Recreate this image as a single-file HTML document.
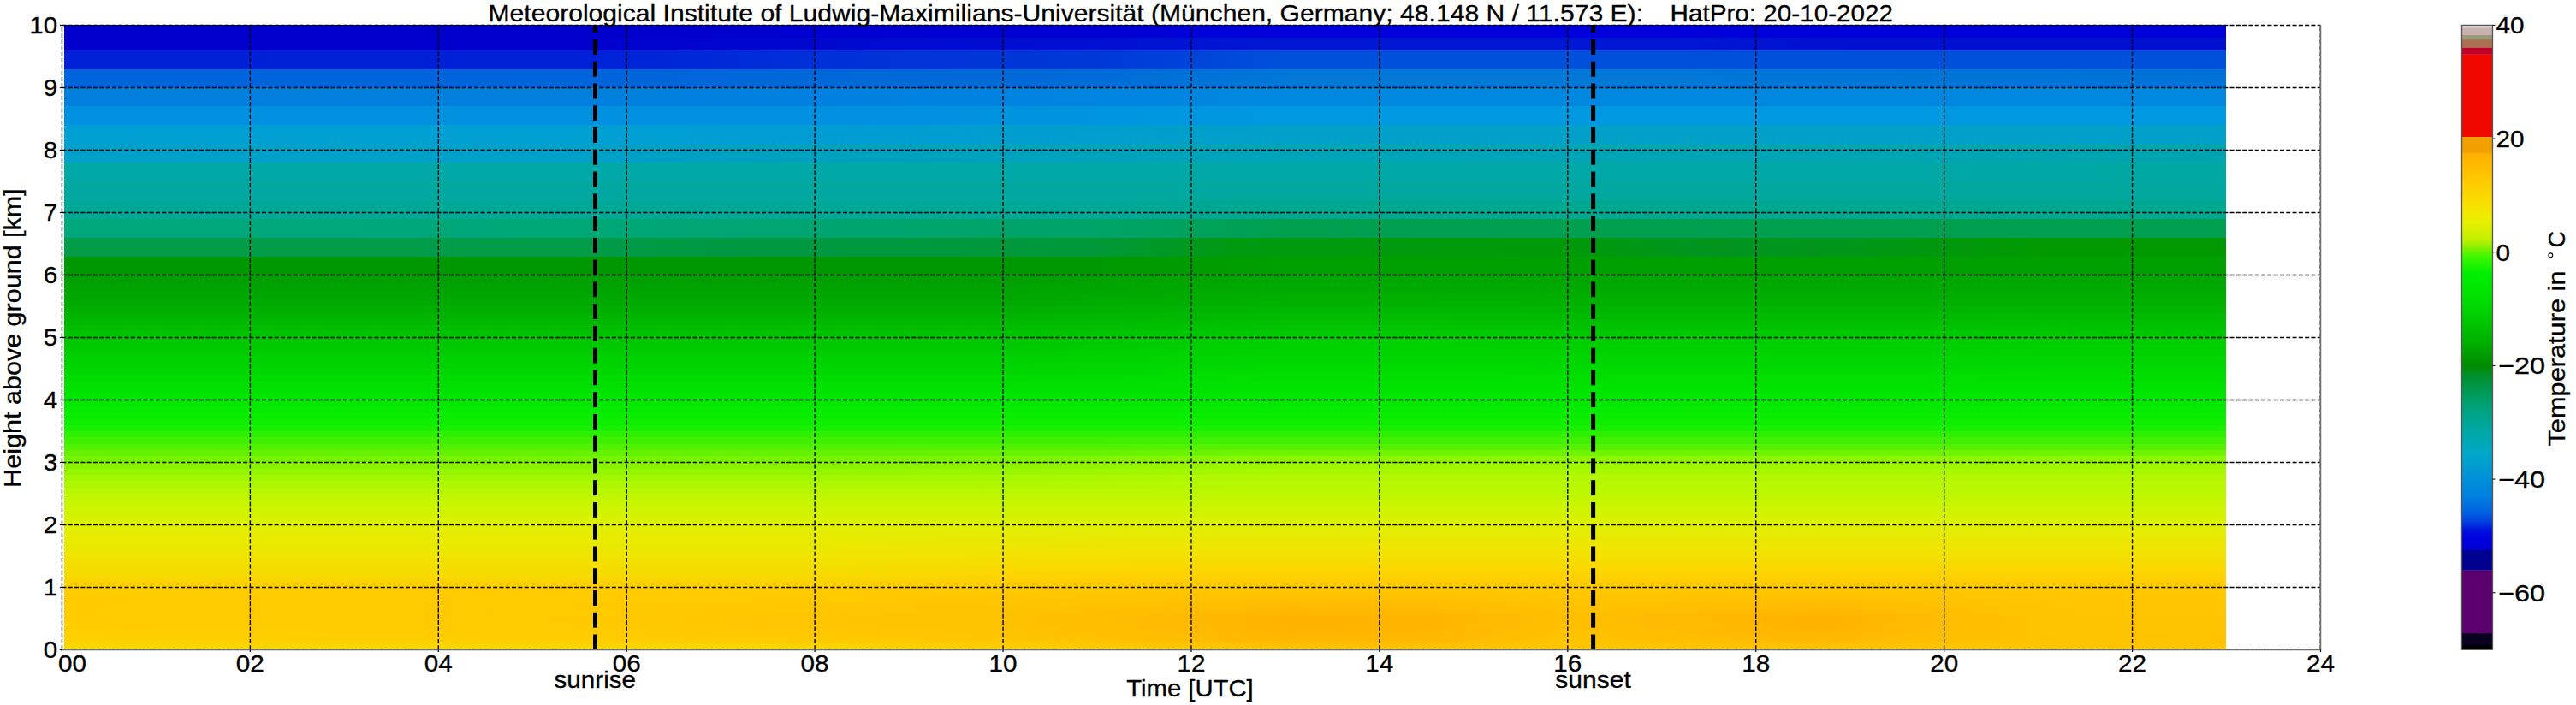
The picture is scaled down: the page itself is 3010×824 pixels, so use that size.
<!DOCTYPE html>
<html><head><meta charset="utf-8"><style>
html,body{margin:0;padding:0;background:#fff;}
body{width:3010px;height:824px;overflow:hidden;position:relative;font-family:"Liberation Sans",sans-serif;}
#heat{position:absolute;left:75.0px;top:28.9px;width:2526.0px;height:730.6px;overflow:hidden;}
#heat div{position:absolute;left:0;width:100%;}
svg{position:absolute;left:0;top:0;}
.g{stroke:#000;stroke-width:1.4;stroke-dasharray:5 2.3;}
</style></head><body>
<div id="heat"><div style="top:0.00px;height:15.80px;background:linear-gradient(90deg,#0000cc -0.10%,#0000cc 23.84%,#0000d0 34.72%,#0000d4 47.78%,#0000dc 56.49%,#0000dc 73.90%,#0000d8 82.61%,#0000d8 100.02%)"></div>
<div style="top:15.20px;height:15.20px;background:linear-gradient(90deg,#0000cc -0.10%,#0000cc 23.84%,#0008d0 34.72%,#0010d2 47.78%,#0018d4 56.49%,#0018d4 73.90%,#0010d0 82.61%,#0010d0 100.02%)"></div>
<div style="top:29.80px;height:22.50px;background:linear-gradient(90deg,#0020d8 -0.10%,#0020d8 23.84%,#0030d8 34.72%,#0038d8 47.78%,#0050dc 56.49%,#0050dc 73.90%,#0050dc 100.02%)"></div>
<div style="top:51.70px;height:22.50px;background:linear-gradient(90deg,#0064dc -0.10%,#0064dc 23.84%,#0068d8 34.72%,#006cd8 47.78%,#0078d8 56.49%,#0078d8 73.90%,#0072d8 100.02%)"></div>
<div style="top:73.60px;height:22.50px;background:linear-gradient(90deg,#0080dc -0.10%,#0080dc 23.84%,#0080e0 34.72%,#0088e0 56.49%,#0088e0 100.02%)"></div>
<div style="top:95.50px;height:22.50px;background:linear-gradient(90deg,#0090e0 -0.10%,#0090e0 23.84%,#0090e0 34.72%,#0098e0 56.49%,#0098e0 100.02%)"></div>
<div style="top:117.40px;height:22.50px;background:linear-gradient(90deg,#00a0d4 -0.10%,#00a0d4 23.84%,#009cd4 34.72%,#00a0c8 56.49%,#00a0c8 100.02%)"></div>
<div style="top:139.30px;height:22.50px;background:linear-gradient(90deg,#00a0c8 -0.10%,#00a0c8 23.84%,#00a0c0 34.72%,#00a4b8 56.49%,#00a4b0 100.02%)"></div>
<div style="top:161.20px;height:22.50px;background:linear-gradient(90deg,#00a8a8 -0.10%,#00a8a8 56.49%,#00a8a4 100.02%)"></div>
<div style="top:183.10px;height:22.50px;background:#00a8a0"></div>
<div style="top:205.00px;height:22.50px;background:linear-gradient(90deg,#00a898 -0.10%,#00a898 47.78%,#00a890 56.49%,#00a890 100.02%)"></div>
<div style="top:226.90px;height:22.50px;background:linear-gradient(90deg,#00a87c -0.10%,#00a878 23.84%,#00a470 34.72%,#00a468 47.78%,#00a050 56.49%,#00a050 100.02%)"></div>
<div style="top:248.80px;height:22.50px;background:linear-gradient(90deg,#009c48 -0.10%,#009c48 23.84%,#009840 34.72%,#009838 47.78%,#009a10 54.31%,#009a08 69.55%,#009420 76.08%,#009618 82.61%,#009a00 91.31%,#009a00 100.02%)"></div>
<div style="top:270.70px;height:22.50px;background:linear-gradient(90deg,#009800 -0.10%,#009800 47.78%,#00a000 56.49%,#00a000 100.02%)"></div>
<div style="top:292.60px;height:7.90px;background:linear-gradient(90deg,#009e00 -0.10%,#009e00 12.96%,#009e00 26.02%,#009e00 34.72%,#009e00 43.43%,#00a200 49.96%,#00a600 56.49%,#00a600 63.02%,#00a600 69.55%,#00a600 76.08%,#00a600 81.30%,#00a600 86.96%,#00a500 93.49%,#00a500 100.02%)"></div>
<div style="top:299.90px;height:7.90px;background:linear-gradient(90deg,#00a100 -0.10%,#00a100 12.96%,#00a100 26.02%,#00a100 34.72%,#00a100 43.43%,#00a500 49.96%,#00a900 56.49%,#00a900 63.02%,#00a800 69.55%,#00a800 76.08%,#00a800 81.30%,#00a800 86.96%,#00a800 93.49%,#00a800 100.02%)"></div>
<div style="top:307.20px;height:7.90px;background:linear-gradient(90deg,#00a400 -0.10%,#00a400 12.96%,#00a400 26.02%,#00a400 34.72%,#00a400 43.43%,#00a800 49.96%,#00ac00 56.49%,#00ac00 63.02%,#00ab00 69.55%,#00ab00 76.08%,#00ab00 81.30%,#00ab00 86.96%,#00ab00 93.49%,#00ab00 100.02%)"></div>
<div style="top:314.50px;height:7.90px;background:linear-gradient(90deg,#00a700 -0.10%,#00a700 12.96%,#00a700 26.02%,#00a700 34.72%,#00a700 43.43%,#00ab00 49.96%,#00af00 56.49%,#00af00 63.02%,#00ae00 69.55%,#00ae00 76.08%,#00ae00 81.30%,#00ae00 86.96%,#00ae00 93.49%,#00ae00 100.02%)"></div>
<div style="top:321.80px;height:7.90px;background:linear-gradient(90deg,#00aa00 -0.10%,#00aa00 12.96%,#00aa00 26.02%,#00aa00 34.72%,#00aa00 43.43%,#00ae00 49.96%,#00b200 56.49%,#00b200 63.02%,#00b100 69.55%,#00b100 76.08%,#00b100 81.30%,#00b100 86.96%,#00b100 93.49%,#00b100 100.02%)"></div>
<div style="top:329.10px;height:7.90px;background:linear-gradient(90deg,#00ae00 -0.10%,#00ae00 12.96%,#00ae00 26.02%,#00ae00 34.72%,#00ae00 43.43%,#00b200 49.96%,#00b600 56.49%,#00b600 63.02%,#00b500 69.55%,#00b500 76.08%,#00b500 81.30%,#00b500 86.96%,#00b400 93.49%,#00b400 100.02%)"></div>
<div style="top:336.40px;height:7.90px;background:linear-gradient(90deg,#00b300 -0.10%,#00b300 12.96%,#00b300 26.02%,#00b300 34.72%,#00b300 43.43%,#00b700 49.96%,#00bb00 56.49%,#00bb00 63.02%,#00ba00 69.55%,#00ba00 76.08%,#00ba00 81.30%,#00ba00 86.96%,#00b900 93.49%,#00b900 100.02%)"></div>
<div style="top:343.70px;height:7.90px;background:linear-gradient(90deg,#00b800 -0.10%,#00b800 12.96%,#00b800 26.02%,#00b800 34.72%,#00b800 43.43%,#00bc00 49.96%,#00c000 56.49%,#00c000 63.02%,#00bf00 69.55%,#00bf00 76.08%,#00bf00 81.30%,#00bf00 86.96%,#00be00 93.49%,#00be00 100.02%)"></div>
<div style="top:351.00px;height:7.90px;background:linear-gradient(90deg,#00bd00 -0.10%,#00bd00 12.96%,#00bd00 26.02%,#00bd00 34.72%,#00bd00 43.43%,#00c100 49.96%,#00c500 56.49%,#00c500 63.02%,#00c400 69.55%,#00c400 76.08%,#00c400 81.30%,#00c400 86.96%,#00c300 93.49%,#00c300 100.02%)"></div>
<div style="top:358.30px;height:7.90px;background:linear-gradient(90deg,#00c200 -0.10%,#00c200 12.96%,#00c200 26.02%,#00c200 34.72%,#00c200 43.43%,#00c600 49.96%,#00ca00 56.49%,#00ca00 63.02%,#00c900 69.55%,#00c900 76.08%,#00c900 81.30%,#00c900 86.96%,#00c800 93.49%,#00c800 100.02%)"></div>
<div style="top:365.60px;height:7.90px;background:linear-gradient(90deg,#00c600 -0.10%,#00c600 12.96%,#00c600 26.02%,#00c600 34.72%,#00c600 43.43%,#00ca00 49.96%,#00ce00 56.49%,#00ce00 63.02%,#00cd00 69.55%,#00cd00 76.08%,#00cd00 81.30%,#00cd00 86.96%,#00cc00 93.49%,#00cc00 100.02%)"></div>
<div style="top:372.90px;height:7.90px;background:linear-gradient(90deg,#00c900 -0.10%,#00c900 12.96%,#00c900 26.02%,#00c900 34.72%,#00c900 43.43%,#00cd00 49.96%,#00d100 56.49%,#00d100 63.02%,#00d000 69.55%,#00d000 76.08%,#00d000 81.30%,#00d000 86.96%,#00cf00 93.49%,#00cf00 100.02%)"></div>
<div style="top:380.20px;height:7.90px;background:linear-gradient(90deg,#00cd00 -0.10%,#00cd00 12.96%,#00cd00 26.02%,#00cd00 34.72%,#00cd00 43.43%,#00d000 49.96%,#00d400 56.49%,#00d400 63.02%,#00d300 69.55%,#00d300 76.08%,#00d300 81.30%,#00d300 86.96%,#00d200 93.49%,#00d200 100.02%)"></div>
<div style="top:387.50px;height:7.90px;background:linear-gradient(90deg,#00d100 -0.10%,#00d100 12.96%,#00d100 26.02%,#00d100 34.72%,#00d100 43.43%,#00d400 49.96%,#00d700 56.49%,#00d700 63.02%,#00d600 69.55%,#00d600 76.08%,#00d600 81.30%,#00d600 86.96%,#00d500 93.49%,#00d500 100.02%)"></div>
<div style="top:394.80px;height:7.90px;background:linear-gradient(90deg,#00d400 -0.10%,#00d400 12.96%,#00d400 26.02%,#00d400 34.72%,#00d400 43.43%,#00d700 49.96%,#00da00 56.49%,#00da00 63.02%,#00d900 69.55%,#00d900 76.08%,#00d900 81.30%,#00d900 86.96%,#00d800 93.49%,#00d800 100.02%)"></div>
<div style="top:402.10px;height:7.90px;background:linear-gradient(90deg,#00d800 -0.10%,#00d800 12.96%,#00d800 26.02%,#00d800 34.72%,#00d800 43.43%,#00da00 49.96%,#00dd00 56.49%,#00dd00 63.02%,#00dc00 69.55%,#00dc00 76.08%,#00dc00 81.30%,#00dc00 86.96%,#00db00 93.49%,#00db00 100.02%)"></div>
<div style="top:409.40px;height:7.90px;background:linear-gradient(90deg,#00db00 -0.10%,#00db00 12.96%,#00db00 26.02%,#00db00 34.72%,#00db00 43.43%,#00dd00 49.96%,#00e000 56.49%,#00e000 63.02%,#00df00 69.55%,#00df00 76.08%,#00df00 81.30%,#00df00 86.96%,#00de00 93.49%,#00de00 100.02%)"></div>
<div style="top:416.70px;height:7.90px;background:linear-gradient(90deg,#00df00 -0.10%,#00df00 12.96%,#00df00 26.02%,#00df00 34.72%,#00df00 43.43%,#00e000 49.96%,#00e200 56.49%,#00e200 63.02%,#00e100 69.55%,#00e100 76.08%,#00e100 81.30%,#00e100 86.96%,#00e100 93.49%,#00e100 100.02%)"></div>
<div style="top:424.00px;height:7.90px;background:linear-gradient(90deg,#00e300 -0.10%,#00e300 12.96%,#00e300 26.02%,#00e300 34.72%,#00e300 43.43%,#00e300 49.96%,#00e400 56.49%,#00e400 63.02%,#00e400 69.55%,#00e400 76.08%,#00e400 81.30%,#00e400 86.96%,#00e400 93.49%,#00e400 100.02%)"></div>
<div style="top:431.30px;height:7.90px;background:linear-gradient(90deg,#00e600 -0.10%,#00e600 12.96%,#00e600 26.02%,#00e600 34.72%,#00e600 43.43%,#00e600 49.96%,#00e700 56.49%,#00e700 63.02%,#00e700 69.55%,#00e700 76.08%,#00e700 81.30%,#00e700 86.96%,#00e700 93.49%,#00e700 100.02%)"></div>
<div style="top:438.60px;height:7.90px;background:linear-gradient(90deg,#02e900 -0.10%,#02e900 12.96%,#02e900 26.02%,#02e900 34.72%,#02e900 43.43%,#02e900 49.96%,#02e900 56.49%,#02e900 63.02%,#02e900 69.55%,#02e900 76.08%,#02e900 81.30%,#02e900 86.96%,#02e900 93.49%,#02e900 100.02%)"></div>
<div style="top:445.90px;height:7.90px;background:linear-gradient(90deg,#06eb00 -0.10%,#06eb00 12.96%,#06eb00 26.02%,#06eb00 34.72%,#06eb00 43.43%,#06eb00 49.96%,#06eb00 56.49%,#06eb00 63.02%,#06eb00 69.55%,#06eb00 76.08%,#06eb00 81.30%,#06eb00 86.96%,#06eb00 93.49%,#06eb00 100.02%)"></div>
<div style="top:453.20px;height:7.90px;background:linear-gradient(90deg,#0aed00 -0.10%,#0aed00 12.96%,#0aed00 26.02%,#0aed00 34.72%,#0aed00 43.43%,#0aed00 49.96%,#0aed00 56.49%,#0aed00 63.02%,#0aed00 69.55%,#0aed00 76.08%,#0aed00 81.30%,#0aed00 86.96%,#0aed00 93.49%,#0aed00 100.02%)"></div>
<div style="top:460.50px;height:7.90px;background:linear-gradient(90deg,#0eef00 -0.10%,#0eef00 12.96%,#0eef00 26.02%,#0eef00 34.72%,#0eef00 43.43%,#0eef00 49.96%,#0eef00 56.49%,#0eef00 63.02%,#0eef00 69.55%,#0eef00 76.08%,#0eef00 81.30%,#0eef00 86.96%,#0eef00 93.49%,#0eef00 100.02%)"></div>
<div style="top:467.80px;height:7.90px;background:linear-gradient(90deg,#19f000 -0.10%,#19f000 12.96%,#19f000 26.02%,#19f000 34.72%,#19f000 43.43%,#19f000 49.96%,#19f000 56.49%,#19f000 63.02%,#19f000 69.55%,#19f000 76.08%,#19f000 81.30%,#19f000 86.96%,#19f000 93.49%,#19f000 100.02%)"></div>
<div style="top:475.10px;height:7.90px;background:linear-gradient(90deg,#2cf000 -0.10%,#2cf000 12.96%,#2cf000 26.02%,#2cf000 34.72%,#2cf000 43.43%,#2cf000 49.96%,#2cf000 56.49%,#2cf000 63.02%,#2cf000 69.55%,#2cf000 76.08%,#2cf000 81.30%,#2cf000 86.96%,#2cf000 93.49%,#2cf000 100.02%)"></div>
<div style="top:482.40px;height:7.90px;background:linear-gradient(90deg,#3ff000 -0.10%,#3ff000 12.96%,#3ff000 26.02%,#3ff000 34.72%,#3ff000 43.43%,#3ff000 49.96%,#3ff000 56.49%,#3ff000 63.02%,#3ff000 69.55%,#3ff000 76.08%,#3ff000 81.30%,#3ff000 86.96%,#3ff000 93.49%,#3ff000 100.02%)"></div>
<div style="top:489.70px;height:7.90px;background:linear-gradient(90deg,#51f100 -0.10%,#51f100 12.96%,#51f100 26.02%,#51f100 34.72%,#52f100 43.43%,#54f100 49.96%,#55f100 56.49%,#55f100 63.02%,#55f100 69.55%,#55f100 76.08%,#55f100 81.30%,#55f100 86.96%,#55f100 93.49%,#55f100 100.02%)"></div>
<div style="top:497.00px;height:7.90px;background:linear-gradient(90deg,#64f200 -0.10%,#64f200 12.96%,#64f200 26.02%,#64f200 34.72%,#67f200 43.43%,#6bf300 49.96%,#70f400 56.49%,#70f400 63.02%,#70f400 69.55%,#70f400 76.08%,#70f400 81.30%,#70f400 86.96%,#70f400 93.49%,#70f400 100.02%)"></div>
<div style="top:504.30px;height:7.90px;background:linear-gradient(90deg,#77f300 -0.10%,#77f300 12.96%,#77f300 26.02%,#77f300 34.72%,#7cf400 43.43%,#83f500 49.96%,#8bf700 56.49%,#8bf700 63.02%,#8bf700 69.55%,#8bf700 76.08%,#8bf700 81.30%,#8bf700 86.96%,#8bf700 93.49%,#8bf700 100.02%)"></div>
<div style="top:511.60px;height:7.90px;background:linear-gradient(90deg,#87f500 -0.10%,#87f500 12.96%,#87f500 26.02%,#87f500 34.72%,#8cf500 43.43%,#95f600 49.96%,#9df800 56.49%,#9df800 63.02%,#9df800 69.55%,#9df800 76.08%,#9df800 81.30%,#9df800 86.96%,#9df800 93.49%,#9df800 100.02%)"></div>
<div style="top:518.90px;height:7.90px;background:linear-gradient(90deg,#94f600 -0.10%,#94f600 12.96%,#94f600 26.02%,#94f600 34.72%,#99f600 43.43%,#a0f700 49.96%,#a8f800 56.49%,#a8f800 63.02%,#a8f800 69.55%,#a8f800 76.08%,#a8f800 81.30%,#a8f800 86.96%,#a8f800 93.49%,#a8f800 100.02%)"></div>
<div style="top:526.20px;height:7.90px;background:linear-gradient(90deg,#a1f700 -0.10%,#a1f700 12.96%,#a1f700 26.02%,#a1f700 34.72%,#a6f700 43.43%,#acf800 49.96%,#b3f800 56.49%,#b3f800 63.02%,#b3f800 69.55%,#b3f800 76.08%,#b3f800 81.30%,#b3f800 86.96%,#b3f800 93.49%,#b3f800 100.02%)"></div>
<div style="top:533.50px;height:7.90px;background:linear-gradient(90deg,#adf800 -0.10%,#adf800 12.96%,#adf800 26.02%,#adf800 34.72%,#b0f800 43.43%,#b4f800 49.96%,#b9f800 56.49%,#b9f800 63.02%,#b9f800 69.55%,#b9f800 76.08%,#b9f800 81.30%,#b9f800 86.96%,#b9f800 93.49%,#b9f800 100.02%)"></div>
<div style="top:540.80px;height:7.90px;background:linear-gradient(90deg,#b7f800 -0.10%,#b7f800 12.96%,#b7f800 26.02%,#b7f800 34.72%,#b8f800 43.43%,#b9f800 49.96%,#bbf800 56.49%,#bbf800 63.02%,#bbf800 69.55%,#bbf800 76.08%,#bbf800 81.30%,#bbf800 86.96%,#bbf800 93.49%,#bbf800 100.02%)"></div>
<div style="top:548.10px;height:7.90px;background:linear-gradient(90deg,#c0f700 -0.10%,#c0f700 12.96%,#c0f700 26.02%,#c0f700 34.72%,#c0f700 43.43%,#c0f700 49.96%,#c0f700 56.49%,#c0f700 63.02%,#c0f700 69.55%,#c0f700 76.08%,#c0f700 81.30%,#c0f700 86.96%,#c0f700 93.49%,#c0f700 100.02%)"></div>
<div style="top:555.40px;height:7.90px;background:linear-gradient(90deg,#c7f600 -0.10%,#c7f600 12.96%,#c7f600 26.02%,#c7f600 34.72%,#c7f600 43.43%,#c7f600 49.96%,#c7f600 56.49%,#c7f600 63.02%,#c7f600 69.55%,#c7f600 76.08%,#c7f600 81.30%,#c7f600 86.96%,#c7f600 93.49%,#c7f600 100.02%)"></div>
<div style="top:562.70px;height:7.90px;background:linear-gradient(90deg,#cef400 -0.10%,#cef400 12.96%,#cef400 26.02%,#cef400 34.72%,#cef400 43.43%,#cef400 49.96%,#cef400 56.49%,#cef400 63.02%,#cef400 69.55%,#cef400 76.08%,#cef400 81.30%,#cef400 86.96%,#cef400 93.49%,#cef400 100.02%)"></div>
<div style="top:570.00px;height:7.90px;background:linear-gradient(90deg,#d5f200 -0.10%,#d5f200 12.96%,#d5f200 26.02%,#d5f200 34.72%,#d5f200 43.43%,#d5f200 49.96%,#d5f200 56.49%,#d5f200 63.02%,#d5f200 69.55%,#d5f200 76.08%,#d5f200 81.30%,#d5f200 86.96%,#d5f200 93.49%,#d5f200 100.02%)"></div>
<div style="top:577.30px;height:7.90px;background:linear-gradient(90deg,#dcf100 -0.10%,#dcf100 12.96%,#dcf100 26.02%,#dcf100 34.72%,#dcf100 43.43%,#dcf100 49.96%,#dcf100 56.49%,#dcf100 63.02%,#dcf100 69.55%,#dcf100 76.08%,#dcf100 81.30%,#dcf100 86.96%,#dcf100 93.49%,#dcf100 100.02%)"></div>
<div style="top:584.60px;height:7.90px;background:linear-gradient(90deg,#e2ef00 -0.10%,#e2ef00 12.96%,#e2ef00 26.02%,#e2ef00 34.72%,#e2ef00 43.43%,#e2ee00 49.96%,#e2ee00 56.49%,#e2ee00 63.02%,#e2ee00 69.55%,#e2ee00 76.08%,#e2ee00 81.30%,#e2ee00 86.96%,#e2ee00 93.49%,#e2ee00 100.02%)"></div>
<div style="top:591.90px;height:7.90px;background:linear-gradient(90deg,#e5ec00 -0.10%,#e5ec00 12.96%,#e5ec00 26.02%,#e5ec00 34.72%,#e6ec00 43.43%,#e6eb00 49.96%,#e6eb00 56.49%,#e6eb00 63.02%,#e6eb00 69.55%,#e6eb00 76.08%,#e6eb00 81.30%,#e6eb00 86.96%,#e6eb00 93.49%,#e6eb00 100.02%)"></div>
<div style="top:599.20px;height:7.90px;background:linear-gradient(90deg,#e8ea00 -0.10%,#e8ea00 12.96%,#e8ea00 26.02%,#e8ea00 34.72%,#e9e900 43.43%,#eae800 49.96%,#eae800 56.49%,#eae800 63.02%,#eae800 69.55%,#eae800 76.08%,#eae800 81.30%,#eae800 86.96%,#eae800 93.49%,#eae800 100.02%)"></div>
<div style="top:606.50px;height:7.90px;background:linear-gradient(90deg,#ebe800 -0.10%,#ebe800 12.96%,#ebe800 26.02%,#ebe800 34.72%,#ede600 43.43%,#eee500 49.96%,#eee500 56.49%,#eee500 63.02%,#eee500 69.55%,#eee500 76.08%,#eee500 81.30%,#eee500 86.96%,#eee500 93.49%,#eee500 100.02%)"></div>
<div style="top:613.80px;height:7.90px;background:linear-gradient(90deg,#eee500 -0.10%,#eee500 12.96%,#eee500 26.02%,#eee500 34.72%,#f1e300 43.43%,#f2e200 49.96%,#f2e200 56.49%,#f2e200 63.02%,#f2e200 69.55%,#f2e200 76.08%,#f2e200 81.30%,#f2e200 86.96%,#f2e200 93.49%,#f2e200 100.02%)"></div>
<div style="top:621.10px;height:4.25px;background:linear-gradient(90deg,#f1e300 -0.10%,#f1e300 12.96%,#f1e300 26.02%,#f1e300 34.72%,#f4e000 43.43%,#f5df00 49.96%,#f5df00 56.49%,#f5df00 63.02%,#f5df00 69.55%,#f5df00 76.08%,#f5df00 81.30%,#f5df00 86.96%,#f5df00 93.49%,#f5df00 100.02%)"></div>
<div style="top:624.75px;height:4.25px;background:linear-gradient(90deg,#f2e100 -0.10%,#f2e100 12.96%,#f2e100 26.02%,#f2e100 34.72%,#f5de00 43.43%,#f6dd00 49.96%,#f6dd00 56.49%,#f6dd00 63.02%,#f6dd00 69.55%,#f6dd00 76.08%,#f6dd00 81.30%,#f6dd00 86.96%,#f6dd00 93.49%,#f6dd00 100.02%)"></div>
<div style="top:628.40px;height:4.25px;background:linear-gradient(90deg,#f3e000 -0.10%,#f3e000 12.96%,#f3e000 26.02%,#f3e000 34.72%,#f7dc00 43.43%,#f8da00 49.96%,#f8da00 56.49%,#f8da00 63.02%,#f8da00 69.55%,#f8da00 76.08%,#f8da00 81.30%,#f8da00 86.96%,#f8da00 93.49%,#f8da00 100.02%)"></div>
<div style="top:632.05px;height:4.25px;background:linear-gradient(90deg,#f4de00 -0.10%,#f4de00 12.96%,#f4de00 26.02%,#f4de00 34.72%,#f8da00 43.43%,#f9d800 49.96%,#f9d800 56.49%,#f9d800 63.02%,#f9d800 69.55%,#f9d800 76.08%,#f9d800 81.30%,#f9d800 86.96%,#f9d800 93.49%,#f9d800 100.02%)"></div>
<div style="top:635.70px;height:4.25px;background:linear-gradient(90deg,#f5dc00 -0.10%,#f5dc00 12.96%,#f5dc00 26.02%,#f5dc00 34.72%,#f9d800 43.43%,#fbd600 49.96%,#fbd600 56.49%,#fbd600 63.02%,#fbd600 69.55%,#fbd600 76.08%,#fbd600 81.30%,#fbd600 86.96%,#fbd600 93.49%,#fbd600 100.02%)"></div>
<div style="top:639.35px;height:4.25px;background:linear-gradient(90deg,#f6db00 -0.10%,#f6db00 12.96%,#f6db00 26.02%,#f6db00 34.72%,#fbd600 43.43%,#fdd300 49.96%,#fdd300 56.49%,#fdd300 63.02%,#fdd300 69.55%,#fdd300 76.08%,#fdd300 81.30%,#fdd300 86.96%,#fdd300 93.49%,#fdd300 100.02%)"></div>
<div style="top:643.00px;height:4.25px;background:linear-gradient(90deg,#f7d900 -0.10%,#f7d900 12.96%,#f7d900 26.02%,#f7d900 34.72%,#fcd400 43.43%,#fed100 49.96%,#fed100 56.49%,#fed100 63.02%,#fed100 69.55%,#fed100 76.08%,#fed100 81.30%,#fed100 86.96%,#fed100 93.49%,#fed100 100.02%)"></div>
<div style="top:646.65px;height:4.25px;background:linear-gradient(90deg,#f9d600 -0.10%,#f9d600 12.96%,#f9d600 26.02%,#f9d600 34.72%,#fdd100 43.43%,#ffcf00 49.96%,#ffcf00 56.49%,#ffcf00 63.02%,#ffcf00 69.55%,#ffcf00 76.08%,#ffcf00 81.30%,#ffcf00 86.96%,#ffcf00 93.49%,#ffcf00 100.02%)"></div>
<div style="top:650.30px;height:4.25px;background:linear-gradient(90deg,#fbd200 -0.10%,#fbd200 12.96%,#fbd200 26.02%,#fbd200 34.72%,#fece00 43.43%,#ffcc00 49.96%,#ffcc00 56.49%,#ffcc00 63.02%,#ffcc00 69.55%,#ffcc00 76.08%,#ffcc00 81.30%,#ffcc00 86.96%,#ffcc00 93.49%,#ffcc00 100.02%)"></div>
<div style="top:653.95px;height:4.25px;background:linear-gradient(90deg,#fece00 -0.10%,#fece00 12.96%,#fece00 26.02%,#fece00 34.72%,#ffcb00 43.43%,#ffc900 49.96%,#ffc900 56.49%,#ffc900 63.02%,#ffc900 69.55%,#ffc900 76.08%,#ffc900 81.30%,#ffc900 86.96%,#ffc900 93.49%,#ffc900 100.02%)"></div>
<div style="top:657.60px;height:4.25px;background:linear-gradient(90deg,#ffcc00 -0.10%,#ffcc00 12.96%,#ffcc00 26.02%,#ffcc00 34.72%,#ffc900 43.43%,#ffc700 49.96%,#ffc700 56.49%,#ffc700 63.02%,#ffc800 69.55%,#ffc700 76.08%,#ffc700 81.30%,#ffc700 86.96%,#ffc800 93.49%,#ffc800 100.02%)"></div>
<div style="top:661.25px;height:4.25px;background:linear-gradient(90deg,#ffcc00 -0.10%,#ffcc00 12.96%,#ffcb00 26.02%,#ffcb00 34.72%,#ffc800 43.43%,#ffc600 49.96%,#ffc500 56.49%,#ffc500 63.02%,#ffc700 69.55%,#ffc600 76.08%,#ffc500 81.30%,#ffc600 86.96%,#ffc700 93.49%,#ffc700 100.02%)"></div>
<div style="top:664.90px;height:4.25px;background:linear-gradient(90deg,#ffcc00 -0.10%,#ffcc00 12.96%,#ffcb00 26.02%,#ffca00 34.72%,#ffc700 43.43%,#ffc500 49.96%,#ffc300 56.49%,#ffc300 63.02%,#ffc600 69.55%,#ffc400 76.08%,#ffc300 81.30%,#ffc500 86.96%,#ffc700 93.49%,#ffc700 100.02%)"></div>
<div style="top:668.55px;height:4.25px;background:linear-gradient(90deg,#ffcc00 -0.10%,#ffcb00 12.96%,#ffcb00 26.02%,#ffca00 34.72%,#ffc600 43.43%,#ffc300 49.96%,#ffc100 56.49%,#ffc100 63.02%,#ffc500 69.55%,#ffc200 76.08%,#ffc000 81.30%,#ffc400 86.96%,#ffc700 93.49%,#ffc700 100.02%)"></div>
<div style="top:672.20px;height:4.25px;background:linear-gradient(90deg,#ffcc00 -0.10%,#ffcb00 12.96%,#ffca00 26.02%,#ffc900 34.72%,#ffc500 43.43%,#ffc200 49.96%,#ffbf00 56.49%,#ffbf00 63.02%,#ffc400 69.55%,#ffc100 76.08%,#ffbe00 81.30%,#ffc300 86.96%,#ffc600 93.49%,#ffc600 100.02%)"></div>
<div style="top:675.85px;height:4.25px;background:linear-gradient(90deg,#ffcc00 -0.10%,#ffcb00 12.96%,#ffca00 26.02%,#ffc800 34.72%,#ffc500 43.43%,#ffc100 49.96%,#ffbc00 56.49%,#ffbd00 63.02%,#ffc300 69.55%,#ffbf00 76.08%,#ffbc00 81.30%,#ffc100 86.96%,#ffc600 93.49%,#ffc600 100.02%)"></div>
<div style="top:679.50px;height:4.25px;background:linear-gradient(90deg,#ffcc00 -0.10%,#ffcb00 12.96%,#ffc900 26.02%,#ffc700 34.72%,#ffc400 43.43%,#ffc000 49.96%,#ffba00 56.49%,#ffbb00 63.02%,#ffc200 69.55%,#ffbe00 76.08%,#ffba00 81.30%,#ffc000 86.96%,#ffc500 93.49%,#ffc500 100.02%)"></div>
<div style="top:683.15px;height:4.25px;background:linear-gradient(90deg,#ffcc00 -0.10%,#ffcb00 12.96%,#ffc900 26.02%,#ffc700 34.72%,#ffc300 43.43%,#ffbe00 49.96%,#ffb800 56.49%,#ffb900 63.02%,#ffc100 69.55%,#ffbc00 76.08%,#ffb800 81.30%,#ffbf00 86.96%,#ffc500 93.49%,#ffc500 100.02%)"></div>
<div style="top:686.80px;height:4.25px;background:linear-gradient(90deg,#ffcc00 -0.10%,#ffca00 12.96%,#ffc900 26.02%,#ffc600 34.72%,#ffc200 43.43%,#ffbd00 49.96%,#ffb600 56.49%,#ffb700 63.02%,#ffc000 69.55%,#ffba00 76.08%,#ffb500 81.30%,#ffbe00 86.96%,#ffc500 93.49%,#ffc500 100.02%)"></div>
<div style="top:690.45px;height:4.25px;background:linear-gradient(90deg,#ffcc00 -0.10%,#ffca00 12.96%,#ffc800 26.02%,#ffc500 34.72%,#ffc100 43.43%,#ffbc00 49.96%,#ffb400 56.49%,#ffb500 63.02%,#ffbf00 69.55%,#ffb900 76.08%,#ffb300 81.30%,#ffbd00 86.96%,#ffc400 93.49%,#ffc400 100.02%)"></div>
<div style="top:694.10px;height:4.25px;background:linear-gradient(90deg,#ffcc00 -0.10%,#ffca00 12.96%,#ffc800 26.02%,#ffc500 34.72%,#ffc100 43.43%,#ffbb00 49.96%,#ffb300 56.49%,#ffb400 63.02%,#ffbf00 69.55%,#ffb800 76.08%,#ffb200 81.30%,#ffbc00 86.96%,#ffc400 93.49%,#ffc400 100.02%)"></div>
<div style="top:697.75px;height:4.25px;background:linear-gradient(90deg,#ffcd00 -0.10%,#ffcb00 12.96%,#ffc900 26.02%,#ffc600 34.72%,#ffc200 43.43%,#ffbc00 49.96%,#ffb400 56.49%,#ffb500 63.02%,#ffc000 69.55%,#ffb900 76.08%,#ffb300 81.30%,#ffbd00 86.96%,#ffc400 93.49%,#ffc300 100.02%)"></div>
<div style="top:701.40px;height:4.25px;background:linear-gradient(90deg,#ffcd00 -0.10%,#ffcb00 12.96%,#ffc900 26.02%,#ffc600 34.72%,#ffc200 43.43%,#ffbc00 49.96%,#ffb400 56.49%,#ffb500 63.02%,#ffc000 69.55%,#ffba00 76.08%,#ffb400 81.30%,#ffbd00 86.96%,#ffc400 93.49%,#ffc300 100.02%)"></div>
<div style="top:705.05px;height:4.25px;background:linear-gradient(90deg,#ffce00 -0.10%,#ffcc00 12.96%,#ffca00 26.02%,#ffc700 34.72%,#ffc300 43.43%,#ffbd00 49.96%,#ffb500 56.49%,#ffb600 63.02%,#ffc100 69.55%,#ffba00 76.08%,#ffb500 81.30%,#ffbd00 86.96%,#ffc400 93.49%,#ffc200 100.02%)"></div>
<div style="top:708.70px;height:2.43px;background:linear-gradient(90deg,#ffce00 -0.10%,#ffcc00 12.96%,#ffca00 26.02%,#ffc700 34.72%,#ffc300 43.43%,#ffbd00 49.96%,#ffb500 56.49%,#ffb600 63.02%,#ffc100 69.55%,#ffbb00 76.08%,#ffb600 81.30%,#ffbe00 86.96%,#ffc300 93.49%,#ffc200 100.02%)"></div>
<div style="top:710.52px;height:2.42px;background:linear-gradient(90deg,#ffcf00 -0.10%,#ffcd00 12.96%,#ffcb00 26.02%,#ffc800 34.72%,#ffc400 43.43%,#ffbe00 49.96%,#ffb600 56.49%,#ffb700 63.02%,#ffc200 69.55%,#ffbb00 76.08%,#ffb700 81.30%,#ffbe00 86.96%,#ffc300 93.49%,#ffc100 100.02%)"></div>
<div style="top:712.35px;height:2.43px;background:linear-gradient(90deg,#ffcf00 -0.10%,#ffcd00 12.96%,#ffcb00 26.02%,#ffc800 34.72%,#ffc400 43.43%,#ffbe00 49.96%,#ffb600 56.49%,#ffb700 63.02%,#ffc200 69.55%,#ffbc00 76.08%,#ffb700 81.30%,#ffbe00 86.96%,#ffc300 93.49%,#ffc100 100.02%)"></div>
<div style="top:714.17px;height:2.43px;background:linear-gradient(90deg,#ffcf00 -0.10%,#ffcd00 12.96%,#ffcb00 26.02%,#ffc800 34.72%,#ffc400 43.43%,#ffbe00 49.96%,#ffb600 56.49%,#ffb700 63.02%,#ffc200 69.55%,#ffbc00 76.08%,#ffb800 81.30%,#ffbe00 86.96%,#ffc300 93.49%,#ffc100 100.02%)"></div>
<div style="top:716.00px;height:2.42px;background:linear-gradient(90deg,#ffd000 -0.10%,#ffce00 12.96%,#ffcc00 26.02%,#ffc900 34.72%,#ffc500 43.43%,#ffbf00 49.96%,#ffb700 56.49%,#ffb800 63.02%,#ffc300 69.55%,#ffbc00 76.08%,#ffb800 81.30%,#ffbf00 86.96%,#ffc300 93.49%,#ffc000 100.02%)"></div>
<div style="top:717.82px;height:2.43px;background:linear-gradient(90deg,#ffd000 -0.10%,#ffce00 12.96%,#ffcc00 26.02%,#ffc900 34.72%,#ffc500 43.43%,#ffbf00 49.96%,#ffb700 56.49%,#ffb800 63.02%,#ffc300 69.55%,#ffbd00 76.08%,#ffb900 81.30%,#ffbf00 86.96%,#ffc300 93.49%,#ffc000 100.02%)"></div>
<div style="top:719.65px;height:2.42px;background:linear-gradient(90deg,#fed100 -0.10%,#fecf00 12.96%,#fecd00 26.02%,#fecb00 34.72%,#ffc600 43.43%,#ffc000 49.96%,#ffb800 56.49%,#ffb900 63.02%,#ffc300 69.55%,#ffbe00 76.08%,#ffba00 81.30%,#ffc000 86.96%,#ffc300 93.49%,#ffc100 100.02%)"></div>
<div style="top:721.47px;height:2.43px;background:linear-gradient(90deg,#fcd300 -0.10%,#fcd100 12.96%,#fcd000 26.02%,#fcce00 34.72%,#fec900 43.43%,#ffc300 49.96%,#ffbb00 56.49%,#ffbc00 63.02%,#ffc400 69.55%,#ffc000 76.08%,#ffbd00 81.30%,#ffc100 86.96%,#ffc400 93.49%,#ffc200 100.02%)"></div>
<div style="top:723.30px;height:2.43px;background:linear-gradient(90deg,#fad500 -0.10%,#fad400 12.96%,#fad300 26.02%,#fad100 34.72%,#fdcb00 43.43%,#fec500 49.96%,#ffbe00 56.49%,#ffbf00 63.02%,#ffc500 69.55%,#ffc200 76.08%,#ffbf00 81.30%,#ffc300 86.96%,#ffc500 93.49%,#ffc300 100.02%)"></div>
<div style="top:725.12px;height:2.42px;background:linear-gradient(90deg,#f9d700 -0.10%,#f9d600 12.96%,#f9d500 26.02%,#f9d400 34.72%,#fcce00 43.43%,#fec800 49.96%,#ffc100 56.49%,#ffc100 63.02%,#ffc600 69.55%,#ffc300 76.08%,#ffc200 81.30%,#ffc400 86.96%,#ffc600 93.49%,#ffc500 100.02%)"></div>
<div style="top:726.95px;height:2.43px;background:linear-gradient(90deg,#f7d900 -0.10%,#f7d800 12.96%,#f7d800 26.02%,#f7d700 34.72%,#fbd000 43.43%,#feca00 49.96%,#ffc400 56.49%,#ffc400 63.02%,#ffc700 69.55%,#ffc500 76.08%,#ffc400 81.30%,#ffc600 86.96%,#ffc700 93.49%,#ffc600 100.02%)"></div>
<div style="top:728.77px;height:2.42px;background:linear-gradient(90deg,#f5db00 -0.10%,#f5db00 12.96%,#f5db00 26.02%,#f5da00 34.72%,#fad300 43.43%,#fdcd00 49.96%,#ffc700 56.49%,#ffc700 63.02%,#ffc800 69.55%,#ffc700 76.08%,#ffc700 81.30%,#ffc700 86.96%,#ffc800 93.49%,#ffc700 100.02%)"></div></div>
<svg width="3010" height="824" viewBox="0 0 3010 824">
<rect x="2876.50" y="753.99" width="36.00" height="5.41" fill="#000000"/>
<rect x="2876.50" y="739.86" width="36.00" height="14.43" fill="#0a0020"/>
<rect x="2876.50" y="666.23" width="36.00" height="73.93" fill="#5c0070"/>
<rect x="2876.50" y="643.01" width="36.00" height="23.52" fill="#000090"/>
<rect x="2876.50" y="63.23" width="36.00" height="97.15" fill="#f00800"/>
<rect x="2876.50" y="55.27" width="36.00" height="8.26" fill="#c0002a"/>
<rect x="2876.50" y="45.98" width="36.00" height="9.59" fill="#aa7050"/>
<rect x="2876.50" y="40.68" width="36.00" height="5.61" fill="#9a9a7a"/>
<rect x="2876.50" y="32.05" width="36.00" height="8.92" fill="#cbb0b0"/>
<rect x="2876.50" y="29.40" width="36.00" height="2.95" fill="#d8d8d8"/>
<defs><linearGradient id="cbg" gradientUnits="userSpaceOnUse" x1="0" y1="643.01" x2="0" y2="160.08"><stop offset="0.0000" stop-color="#0000d0"/><stop offset="0.0275" stop-color="#0000e0"/><stop offset="0.0481" stop-color="#0010e0"/><stop offset="0.0687" stop-color="#0040e0"/><stop offset="0.0893" stop-color="#0060e0"/><stop offset="0.1305" stop-color="#0080e0"/><stop offset="0.1717" stop-color="#0090d8"/><stop offset="0.2335" stop-color="#00a8c8"/><stop offset="0.2953" stop-color="#00a8a0"/><stop offset="0.3571" stop-color="#00a070"/><stop offset="0.4190" stop-color="#009030"/><stop offset="0.4464" stop-color="#008c00"/><stop offset="0.5041" stop-color="#00b000"/><stop offset="0.6071" stop-color="#00e000"/><stop offset="0.6703" stop-color="#00f000"/><stop offset="0.7115" stop-color="#40f800"/><stop offset="0.7308" stop-color="#80f000"/><stop offset="0.7514" stop-color="#c0f000"/><stop offset="0.7926" stop-color="#e8f000"/><stop offset="0.8352" stop-color="#f8e000"/><stop offset="0.8970" stop-color="#ffc800"/><stop offset="0.9588" stop-color="#ffb000"/><stop offset="0.9643" stop-color="#f0a000"/><stop offset="1.0000" stop-color="#f0a000"/></linearGradient></defs>
<rect x="2876.50" y="160.08" width="36.00" height="482.93" fill="url(#cbg)"/>
<line x1="72.45" y1="759.30" x2="2711.30" y2="759.30" class="g"/>
<line x1="72.45" y1="686.50" x2="2711.30" y2="686.50" class="g"/>
<line x1="72.45" y1="613.50" x2="2711.30" y2="613.50" class="g"/>
<line x1="72.45" y1="540.50" x2="2711.30" y2="540.50" class="g"/>
<line x1="72.45" y1="467.50" x2="2711.30" y2="467.50" class="g"/>
<line x1="72.45" y1="394.50" x2="2711.30" y2="394.50" class="g"/>
<line x1="72.45" y1="321.50" x2="2711.30" y2="321.50" class="g"/>
<line x1="72.45" y1="248.50" x2="2711.30" y2="248.50" class="g"/>
<line x1="72.45" y1="175.50" x2="2711.30" y2="175.50" class="g"/>
<line x1="72.45" y1="102.50" x2="2711.30" y2="102.50" class="g"/>
<line x1="72.45" y1="29.50" x2="2711.30" y2="29.50" class="g"/>
<line x1="72.45" y1="759.30" x2="72.45" y2="29.50" class="g"/>
<line x1="292.37" y1="759.30" x2="292.37" y2="29.50" class="g"/>
<line x1="512.29" y1="759.30" x2="512.29" y2="29.50" class="g"/>
<line x1="732.21" y1="759.30" x2="732.21" y2="29.50" class="g"/>
<line x1="952.13" y1="759.30" x2="952.13" y2="29.50" class="g"/>
<line x1="1172.05" y1="759.30" x2="1172.05" y2="29.50" class="g"/>
<line x1="1391.97" y1="759.30" x2="1391.97" y2="29.50" class="g"/>
<line x1="1611.89" y1="759.30" x2="1611.89" y2="29.50" class="g"/>
<line x1="1831.81" y1="759.30" x2="1831.81" y2="29.50" class="g"/>
<line x1="2051.73" y1="759.30" x2="2051.73" y2="29.50" class="g"/>
<line x1="2271.65" y1="759.30" x2="2271.65" y2="29.50" class="g"/>
<line x1="2491.57" y1="759.30" x2="2491.57" y2="29.50" class="g"/>
<line x1="2711.30" y1="759.30" x2="2711.30" y2="29.50" class="g"/>
<line x1="71.95" y1="759.40" x2="2712.00" y2="759.40" stroke="#707070" stroke-width="1.7"/>
<line x1="2711.40" y1="759.40" x2="2711.40" y2="29.10" stroke="#707070" stroke-width="1.7"/>
<line x1="69.85" y1="759.50" x2="72.45" y2="759.50" stroke="#000" stroke-width="1.2"/>
<line x1="69.85" y1="686.50" x2="72.45" y2="686.50" stroke="#000" stroke-width="1.2"/>
<line x1="69.85" y1="613.50" x2="72.45" y2="613.50" stroke="#000" stroke-width="1.2"/>
<line x1="69.85" y1="540.50" x2="72.45" y2="540.50" stroke="#000" stroke-width="1.2"/>
<line x1="69.85" y1="467.50" x2="72.45" y2="467.50" stroke="#000" stroke-width="1.2"/>
<line x1="69.85" y1="394.50" x2="72.45" y2="394.50" stroke="#000" stroke-width="1.2"/>
<line x1="69.85" y1="321.50" x2="72.45" y2="321.50" stroke="#000" stroke-width="1.2"/>
<line x1="69.85" y1="248.50" x2="72.45" y2="248.50" stroke="#000" stroke-width="1.2"/>
<line x1="69.85" y1="175.50" x2="72.45" y2="175.50" stroke="#000" stroke-width="1.2"/>
<line x1="69.85" y1="102.50" x2="72.45" y2="102.50" stroke="#000" stroke-width="1.2"/>
<line x1="69.85" y1="29.50" x2="72.45" y2="29.50" stroke="#000" stroke-width="1.2"/>
<line x1="72.45" y1="759.40" x2="72.45" y2="762.00" stroke="#000" stroke-width="1.2"/>
<line x1="292.37" y1="759.40" x2="292.37" y2="762.00" stroke="#000" stroke-width="1.2"/>
<line x1="512.29" y1="759.40" x2="512.29" y2="762.00" stroke="#000" stroke-width="1.2"/>
<line x1="732.21" y1="759.40" x2="732.21" y2="762.00" stroke="#000" stroke-width="1.2"/>
<line x1="952.13" y1="759.40" x2="952.13" y2="762.00" stroke="#000" stroke-width="1.2"/>
<line x1="1172.05" y1="759.40" x2="1172.05" y2="762.00" stroke="#000" stroke-width="1.2"/>
<line x1="1391.97" y1="759.40" x2="1391.97" y2="762.00" stroke="#000" stroke-width="1.2"/>
<line x1="1611.89" y1="759.40" x2="1611.89" y2="762.00" stroke="#000" stroke-width="1.2"/>
<line x1="1831.81" y1="759.40" x2="1831.81" y2="762.00" stroke="#000" stroke-width="1.2"/>
<line x1="2051.73" y1="759.40" x2="2051.73" y2="762.00" stroke="#000" stroke-width="1.2"/>
<line x1="2271.65" y1="759.40" x2="2271.65" y2="762.00" stroke="#000" stroke-width="1.2"/>
<line x1="2491.57" y1="759.40" x2="2491.57" y2="762.00" stroke="#000" stroke-width="1.2"/>
<line x1="2711.49" y1="759.40" x2="2711.49" y2="762.00" stroke="#000" stroke-width="1.2"/>
<rect x="693.00" y="29.30" width="5" height="8.84" fill="#000"/>
<rect x="693.00" y="46.00" width="5" height="17.90" fill="#000"/>
<rect x="693.00" y="71.76" width="5" height="17.90" fill="#000"/>
<rect x="693.00" y="97.52" width="5" height="17.90" fill="#000"/>
<rect x="693.00" y="123.28" width="5" height="17.90" fill="#000"/>
<rect x="693.00" y="149.04" width="5" height="17.90" fill="#000"/>
<rect x="693.00" y="174.80" width="5" height="17.90" fill="#000"/>
<rect x="693.00" y="200.56" width="5" height="17.90" fill="#000"/>
<rect x="693.00" y="226.32" width="5" height="17.90" fill="#000"/>
<rect x="693.00" y="252.08" width="5" height="17.90" fill="#000"/>
<rect x="693.00" y="277.84" width="5" height="17.90" fill="#000"/>
<rect x="693.00" y="303.60" width="5" height="17.90" fill="#000"/>
<rect x="693.00" y="329.36" width="5" height="17.90" fill="#000"/>
<rect x="693.00" y="355.12" width="5" height="17.90" fill="#000"/>
<rect x="693.00" y="380.88" width="5" height="17.90" fill="#000"/>
<rect x="693.00" y="406.64" width="5" height="17.90" fill="#000"/>
<rect x="693.00" y="432.40" width="5" height="17.90" fill="#000"/>
<rect x="693.00" y="458.16" width="5" height="17.90" fill="#000"/>
<rect x="693.00" y="483.92" width="5" height="17.90" fill="#000"/>
<rect x="693.00" y="509.68" width="5" height="17.90" fill="#000"/>
<rect x="693.00" y="535.44" width="5" height="17.90" fill="#000"/>
<rect x="693.00" y="561.20" width="5" height="17.90" fill="#000"/>
<rect x="693.00" y="586.96" width="5" height="17.90" fill="#000"/>
<rect x="693.00" y="612.72" width="5" height="17.90" fill="#000"/>
<rect x="693.00" y="638.48" width="5" height="17.90" fill="#000"/>
<rect x="693.00" y="664.24" width="5" height="17.90" fill="#000"/>
<rect x="693.00" y="690.00" width="5" height="17.90" fill="#000"/>
<rect x="693.00" y="715.76" width="5" height="17.90" fill="#000"/>
<rect x="693.00" y="741.52" width="5" height="17.28" fill="#000"/>
<rect x="1859.10" y="29.30" width="5" height="8.84" fill="#000"/>
<rect x="1859.10" y="46.00" width="5" height="17.90" fill="#000"/>
<rect x="1859.10" y="71.76" width="5" height="17.90" fill="#000"/>
<rect x="1859.10" y="97.52" width="5" height="17.90" fill="#000"/>
<rect x="1859.10" y="123.28" width="5" height="17.90" fill="#000"/>
<rect x="1859.10" y="149.04" width="5" height="17.90" fill="#000"/>
<rect x="1859.10" y="174.80" width="5" height="17.90" fill="#000"/>
<rect x="1859.10" y="200.56" width="5" height="17.90" fill="#000"/>
<rect x="1859.10" y="226.32" width="5" height="17.90" fill="#000"/>
<rect x="1859.10" y="252.08" width="5" height="17.90" fill="#000"/>
<rect x="1859.10" y="277.84" width="5" height="17.90" fill="#000"/>
<rect x="1859.10" y="303.60" width="5" height="17.90" fill="#000"/>
<rect x="1859.10" y="329.36" width="5" height="17.90" fill="#000"/>
<rect x="1859.10" y="355.12" width="5" height="17.90" fill="#000"/>
<rect x="1859.10" y="380.88" width="5" height="17.90" fill="#000"/>
<rect x="1859.10" y="406.64" width="5" height="17.90" fill="#000"/>
<rect x="1859.10" y="432.40" width="5" height="17.90" fill="#000"/>
<rect x="1859.10" y="458.16" width="5" height="17.90" fill="#000"/>
<rect x="1859.10" y="483.92" width="5" height="17.90" fill="#000"/>
<rect x="1859.10" y="509.68" width="5" height="17.90" fill="#000"/>
<rect x="1859.10" y="535.44" width="5" height="17.90" fill="#000"/>
<rect x="1859.10" y="561.20" width="5" height="17.90" fill="#000"/>
<rect x="1859.10" y="586.96" width="5" height="17.90" fill="#000"/>
<rect x="1859.10" y="612.72" width="5" height="17.90" fill="#000"/>
<rect x="1859.10" y="638.48" width="5" height="17.90" fill="#000"/>
<rect x="1859.10" y="664.24" width="5" height="17.90" fill="#000"/>
<rect x="1859.10" y="690.00" width="5" height="17.90" fill="#000"/>
<rect x="1859.10" y="715.76" width="5" height="17.90" fill="#000"/>
<rect x="1859.10" y="741.52" width="5" height="17.28" fill="#000"/>
<rect x="2876.50" y="29.40" width="36.00" height="729.70" fill="none" stroke="#555" stroke-width="1.3"/>
<line x1="2912.50" y1="29.40" x2="2915.50" y2="29.40" stroke="#000" stroke-width="1"/>
<line x1="2912.50" y1="162.07" x2="2915.50" y2="162.07" stroke="#000" stroke-width="1"/>
<line x1="2912.50" y1="294.75" x2="2915.50" y2="294.75" stroke="#000" stroke-width="1"/>
<line x1="2912.50" y1="427.42" x2="2915.50" y2="427.42" stroke="#000" stroke-width="1"/>
<line x1="2912.50" y1="560.09" x2="2915.50" y2="560.09" stroke="#000" stroke-width="1"/>
<line x1="2912.50" y1="692.76" x2="2915.50" y2="692.76" stroke="#000" stroke-width="1"/>
<g font-family="Liberation Sans, sans-serif" fill="#000" stroke="#000" stroke-width="0.3">
<text x="570.50" y="25.20" font-size="27.60" text-anchor="start" textLength="1349.50" lengthAdjust="spacingAndGlyphs">Meteorological Institute of Ludwig-Maximilians-Universität (München, Germany; 48.148 N / 11.573 E):</text>
<text x="1951.50" y="25.20" font-size="27.60" text-anchor="start" textLength="260.50" lengthAdjust="spacingAndGlyphs">HatPro: 20-10-2022</text>
<text x="67.30" y="769.30" font-size="27.60" text-anchor="end" textLength="16.50" lengthAdjust="spacingAndGlyphs">0</text>
<text x="67.30" y="696.30" font-size="27.60" text-anchor="end" textLength="16.50" lengthAdjust="spacingAndGlyphs">1</text>
<text x="67.30" y="623.30" font-size="27.60" text-anchor="end" textLength="16.50" lengthAdjust="spacingAndGlyphs">2</text>
<text x="67.30" y="550.30" font-size="27.60" text-anchor="end" textLength="16.50" lengthAdjust="spacingAndGlyphs">3</text>
<text x="67.30" y="477.30" font-size="27.60" text-anchor="end" textLength="16.50" lengthAdjust="spacingAndGlyphs">4</text>
<text x="67.30" y="404.30" font-size="27.60" text-anchor="end" textLength="16.50" lengthAdjust="spacingAndGlyphs">5</text>
<text x="67.30" y="331.30" font-size="27.60" text-anchor="end" textLength="16.50" lengthAdjust="spacingAndGlyphs">6</text>
<text x="67.30" y="258.30" font-size="27.60" text-anchor="end" textLength="16.50" lengthAdjust="spacingAndGlyphs">7</text>
<text x="67.30" y="185.30" font-size="27.60" text-anchor="end" textLength="16.50" lengthAdjust="spacingAndGlyphs">8</text>
<text x="67.30" y="112.30" font-size="27.60" text-anchor="end" textLength="16.50" lengthAdjust="spacingAndGlyphs">9</text>
<text x="67.30" y="39.30" font-size="27.60" text-anchor="end" textLength="33.00" lengthAdjust="spacingAndGlyphs">10</text>
<text x="68.00" y="785.00" font-size="27.60" text-anchor="start" textLength="33.00" lengthAdjust="spacingAndGlyphs">00</text>
<text x="292.37" y="785.00" font-size="27.60" text-anchor="middle" textLength="33.00" lengthAdjust="spacingAndGlyphs">02</text>
<text x="512.29" y="785.00" font-size="27.60" text-anchor="middle" textLength="33.00" lengthAdjust="spacingAndGlyphs">04</text>
<text x="732.21" y="785.00" font-size="27.60" text-anchor="middle" textLength="33.00" lengthAdjust="spacingAndGlyphs">06</text>
<text x="952.13" y="785.00" font-size="27.60" text-anchor="middle" textLength="33.00" lengthAdjust="spacingAndGlyphs">08</text>
<text x="1172.05" y="785.00" font-size="27.60" text-anchor="middle" textLength="33.00" lengthAdjust="spacingAndGlyphs">10</text>
<text x="1391.97" y="785.00" font-size="27.60" text-anchor="middle" textLength="33.00" lengthAdjust="spacingAndGlyphs">12</text>
<text x="1611.89" y="785.00" font-size="27.60" text-anchor="middle" textLength="33.00" lengthAdjust="spacingAndGlyphs">14</text>
<text x="1831.81" y="785.00" font-size="27.60" text-anchor="middle" textLength="33.00" lengthAdjust="spacingAndGlyphs">16</text>
<text x="2051.73" y="785.00" font-size="27.60" text-anchor="middle" textLength="33.00" lengthAdjust="spacingAndGlyphs">18</text>
<text x="2271.65" y="785.00" font-size="27.60" text-anchor="middle" textLength="33.00" lengthAdjust="spacingAndGlyphs">20</text>
<text x="2491.57" y="785.00" font-size="27.60" text-anchor="middle" textLength="33.00" lengthAdjust="spacingAndGlyphs">22</text>
<text x="2711.49" y="785.00" font-size="27.60" text-anchor="middle" textLength="33.00" lengthAdjust="spacingAndGlyphs">24</text>
<text x="695.30" y="803.70" font-size="27.60" text-anchor="middle" textLength="95.50" lengthAdjust="spacingAndGlyphs">sunrise</text>
<text x="1861.50" y="803.70" font-size="27.60" text-anchor="middle" textLength="88.50" lengthAdjust="spacingAndGlyphs">sunset</text>
<text x="1390.50" y="813.80" font-size="27.60" text-anchor="middle" textLength="148.50" lengthAdjust="spacingAndGlyphs">Time [UTC]</text>
<text transform="translate(24,395) rotate(-90)" font-size="27.60" text-anchor="middle" textLength="349.5" lengthAdjust="spacingAndGlyphs">Height above ground [km]</text>
<text x="2916.50" y="39.20" font-size="27.60" text-anchor="start" textLength="33.00" lengthAdjust="spacingAndGlyphs">40</text>
<text x="2916.50" y="171.87" font-size="27.60" text-anchor="start" textLength="33.00" lengthAdjust="spacingAndGlyphs">20</text>
<text x="2916.50" y="304.55" font-size="27.60" text-anchor="start" textLength="16.50" lengthAdjust="spacingAndGlyphs">0</text>
<text x="2919.00" y="437.22" font-size="27.60" text-anchor="start" textLength="55.00" lengthAdjust="spacingAndGlyphs">−20</text>
<text x="2919.00" y="569.89" font-size="27.60" text-anchor="start" textLength="55.00" lengthAdjust="spacingAndGlyphs">−40</text>
<text x="2919.00" y="702.56" font-size="27.60" text-anchor="start" textLength="55.00" lengthAdjust="spacingAndGlyphs">−60</text>
<text transform="translate(2996.5,521.5) rotate(-90)" font-size="27.60" textLength="205" lengthAdjust="spacingAndGlyphs">Temperature in</text>
<text transform="translate(2996.5,289.5) rotate(-90)" font-size="27.60" textLength="19.5" lengthAdjust="spacingAndGlyphs">C</text>
<circle cx="2980.3" cy="298.3" r="2.4" fill="none" stroke="#000" stroke-width="1.1"/>
</g>
</svg>
</body></html>
